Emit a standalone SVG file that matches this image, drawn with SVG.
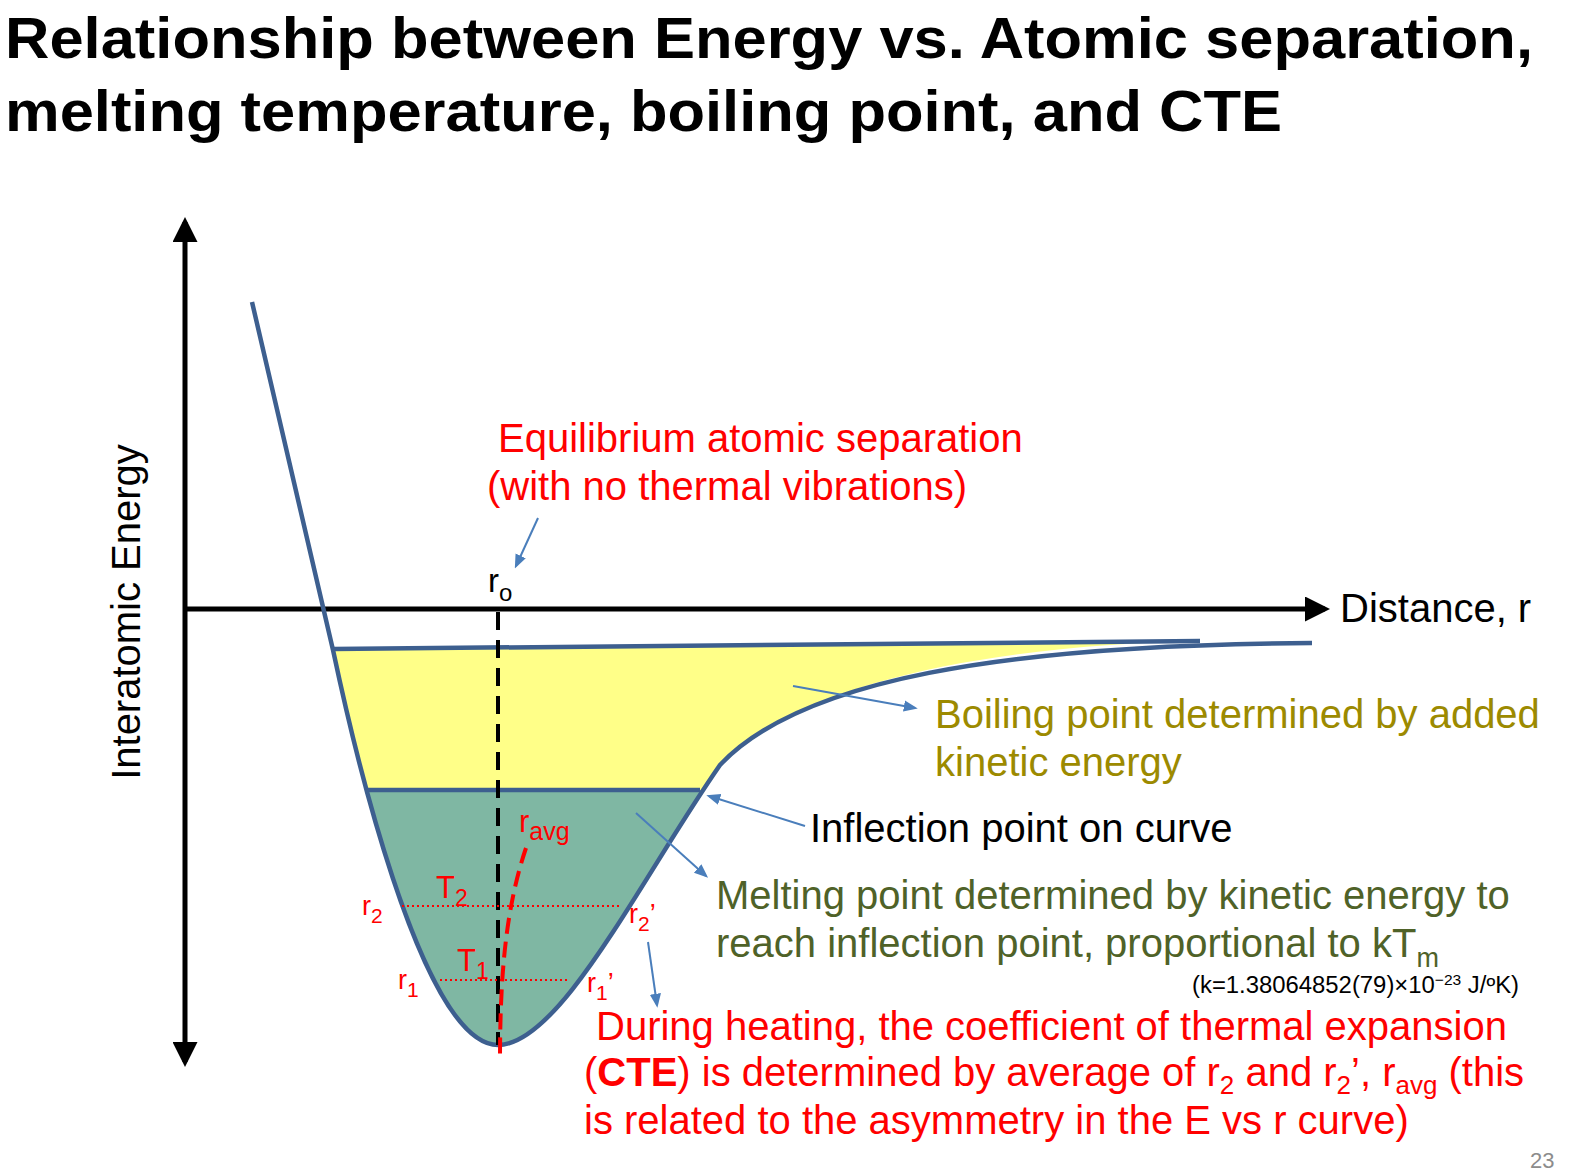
<svg xmlns="http://www.w3.org/2000/svg" width="1572" height="1176" viewBox="0 0 1572 1176">
<style>
text{font-family:"Liberation Sans",Arial,sans-serif}
.red{fill:#ff0000;font-size:40px}
.sm{fill:#ff0000;font-size:27px}
.big{font-size:31px}
.blk{fill:#000;font-size:40px}
.ol{fill:#9c8a00;font-size:40px}
.gr{fill:#4f6228;font-size:40px}
.ptr{stroke:#4a7ebb;stroke-width:2;fill:none;marker-end:url(#bh)}
</style>
<defs>
<marker id="ah" viewBox="0 0 10 10" refX="8" refY="5" markerWidth="5" markerHeight="5" orient="auto-start-reverse"><path d="M0,0 L10,5 L0,10 Z" fill="#000"/></marker>
<marker id="bh" viewBox="0 0 10 10" refX="8" refY="5" markerWidth="7" markerHeight="7" orient="auto"><path d="M0,1 L10,5 L0,9 Z" fill="#4a7ebb"/></marker>
<clipPath id="top"><rect x="0" y="0" width="1572" height="790"/></clipPath>
<clipPath id="bot"><rect x="0" y="790" width="1572" height="400"/></clipPath>
<path id="well" d="M333,650 C350,730 420,1045 498,1045 C560,1045 640,880 720,765 C800,680 1000,645 1200,641 Z"/>
</defs>
<rect width="1572" height="1176" fill="#fff"/>
<text x="5" y="58" font-size="57" font-weight="bold" textLength="1528" lengthAdjust="spacingAndGlyphs">Relationship between Energy vs. Atomic separation,</text>
<text x="5" y="131" font-size="57" font-weight="bold" textLength="1277" lengthAdjust="spacingAndGlyphs">melting temperature, boiling point, and CTE</text>
<g id="fills">
<use href="#well" fill="#ffff88" clip-path="url(#top)"/>
<use href="#well" fill="#7fb7a3" clip-path="url(#bot)"/>
</g>
<g id="axes">
<line x1="185" y1="222" x2="185" y2="1062" stroke="#000" stroke-width="5" marker-start="url(#ah)" marker-end="url(#ah)"/>
<line x1="185" y1="609" x2="1325" y2="609" stroke="#000" stroke-width="5" marker-end="url(#ah)"/>
<text x="140" y="612" class="blk" transform="rotate(-90 140 612)" text-anchor="middle">Interatomic Energy</text>
<text x="1340" y="622" class="blk">Distance, r</text>
</g>
<g id="curve" fill="none" stroke="#3d5f8f" stroke-width="4.5">
<path d="M252,302 L333,650 C350,730 420,1045 498,1045 C560,1045 640,880 720,765 C800,680 1000,645 1312,643"/>
<path d="M333,649 L1200,641"/>
<path d="M366,790 L700,790"/>
</g>
<g id="lines">
<line x1="498" y1="612" x2="498" y2="1045" stroke="#000" stroke-width="4" stroke-dasharray="18,10"/>
<path d="M526,848 C505,910 500,980 500,1060" stroke="#ff0000" stroke-width="4" fill="none" stroke-dasharray="16,8"/>
<line x1="402" y1="906" x2="622" y2="906" stroke="#ff0000" stroke-width="2" stroke-dasharray="2,3"/>
<line x1="440" y1="980" x2="570" y2="980" stroke="#ff0000" stroke-width="2" stroke-dasharray="2,3"/>
</g>
<g id="connectors">
<line x1="538" y1="518" x2="516" y2="566" class="ptr"/>
<line x1="793" y1="686" x2="915" y2="708" class="ptr"/>
<line x1="805" y1="826" x2="709" y2="796" class="ptr"/>
<line x1="636" y1="813" x2="706" y2="876" class="ptr"/>
<line x1="648" y1="942" x2="657" y2="1005" class="ptr"/>
</g>
<g id="labels">
<text x="498" y="452" class="red">Equilibrium atomic separation</text>
<text x="487" y="500" class="red">(with no thermal vibrations)</text>
<text x="488" y="592" style="font-size:33px">r<tspan style="font-size:24px" dy="9">o</tspan></text>
<text x="935" y="728" class="ol">Boiling point determined by added</text>
<text x="935" y="776" class="ol">kinetic energy</text>
<text x="810" y="842" class="blk">Inflection point on curve</text>
<text x="716" y="909" class="gr">Melting point determined by kinetic energy to</text>
<text x="716" y="957" class="gr">reach inflection point, proportional to kT<tspan style="font-size:27px" dy="10">m</tspan></text>
<text x="1192" y="993" style="font-size:23px" fill="#000" textLength="327" lengthAdjust="spacingAndGlyphs">(k=1.38064852(79)×10<tspan style="font-size:15px" dy="-8">−23</tspan><tspan dy="8"> J/ºK)</tspan></text>
<text x="519" y="832" class="sm big">r<tspan style="font-size:25px" dy="8">avg</tspan></text>
<text x="436" y="898" class="sm big">T<tspan style="font-size:23px" dy="8">2</tspan></text>
<text x="457" y="971" class="sm big">T<tspan style="font-size:23px" dy="8">1</tspan></text>
<text x="362" y="915" class="sm">r<tspan style="font-size:21px" dy="8">2</tspan></text>
<text x="398" y="989" class="sm">r<tspan style="font-size:21px" dy="8">1</tspan></text>
<text x="629" y="923" class="sm">r<tspan style="font-size:21px" dy="8">2</tspan><tspan dy="-8">’</tspan></text>
<text x="587" y="992" class="sm">r<tspan style="font-size:21px" dy="8">1</tspan><tspan dy="-8">’</tspan></text>
<text x="596" y="1040" class="red">During heating, the coefficient of thermal expansion</text>
<text x="584" y="1086" class="red">(<tspan font-weight="bold">CTE</tspan>) is determined by average of r<tspan style="font-size:26px" dy="8">2</tspan><tspan dy="-8"> and r</tspan><tspan style="font-size:26px" dy="8">2</tspan><tspan dy="-8">’, r</tspan><tspan style="font-size:26px" dy="8">avg</tspan><tspan dy="-8"> (this</tspan></text>
<text x="584" y="1134" class="red">is related to the asymmetry in the E vs r curve)</text>
<text x="1530" y="1168" style="font-size:22px" fill="#8c8c8c">23</text>
</g>
</svg>
